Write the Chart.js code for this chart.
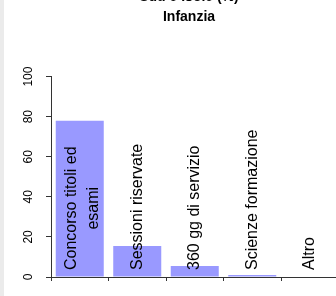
<!DOCTYPE html>
<html><head><meta charset="utf-8">
<script src="https://cdn.jsdelivr.net/npm/chart.js@4"></script>
<style>
html,body{margin:0;padding:0;width:336px;height:296px;overflow:hidden;background:#ebebeb;}
#wrap{position:absolute;left:4px;top:-14px;width:370px;height:320px;background:#fff;}
canvas{display:block;}
</style></head><body>
<div id="wrap"><canvas id="c" width="370" height="320" style="width:370px;height:320px"></canvas></div>
<script>
const titleLines = ["Sud e Isole (%)", "Infanzia"];
const categories = [["Concorso titoli ed", "esami"], ["Sessioni riservate"], ["360 gg di servizio"], ["Scienze formazione"], ["Altro"]];
const values = [78, 15.5, 5.5, 1, 0];
const yTicks = [0, 20, 40, 60, 80, 100];

const FONT = '"Liberation Sans", Arial, sans-serif';

const catLabels = {
  id: 'catLabels',
  afterDatasetsDraw(chart) {
    const ctx = chart.ctx;
    const x = chart.scales.x, y = chart.scales.y;
    ctx.save();
    ctx.font = '16px ' + FONT;
    ctx.fillStyle = '#000';
    ctx.textAlign = 'left';
    ctx.textBaseline = 'middle';
    const base = y.getPixelForValue(0) - 7;
    const lh = 22;
    categories.forEach((lines, i) => {
      const cx = x.getPixelForValue(i) + (lines.length > 1 ? 3 : 0);
      const maxW = Math.max(...lines.map(t => ctx.measureText(t).width));
      lines.forEach((t, j) => {
        const w = ctx.measureText(t).width;
        const off = (j - (lines.length - 1) / 2) * lh;
        ctx.save();
        ctx.translate(cx + off, base);
        ctx.rotate(-Math.PI / 2);
        ctx.fillText(t, (maxW - w) / 2, 0);
        ctx.restore();
      });
    });
    ctx.restore();
  }
};

new Chart(document.getElementById('c'), {
  type: 'bar',
  data: {
    labels: categories.map(c => c.join(' ')),
    datasets: [{
      data: values,
      backgroundColor: '#9999FF',
      borderWidth: 0,
      barPercentage: 0.835,
      categoryPercentage: 1,
      yAxisID: 'y'
    }]
  },
  options: {
    responsive: false,
    animation: false,
    devicePixelRatio: 1,
    layout: { padding: { left: 0, right: 0, top: 0, bottom: 25 } },
    plugins: {
      legend: { display: false },
      tooltip: { enabled: false },
      title: {
        display: true,
        text: titleLines,
        color: '#000',
        font: { family: FONT, size: 14, weight: 'bold', lineHeight: 1.4 },
        padding: { top: 1.8, bottom: 49.6 }
      }
    },
    scales: {
      x: {
        grid: { display: true, drawOnChartArea: false, drawTicks: true, tickLength: 4, color: '#333', offset: true },
        border: { display: true, color: '#333', width: 1 },
        ticks: { display: false }
      },
      y: {
        position: 'left',
        min: 0, max: 100,
        afterBuildTicks(scale) { scale.ticks = yTicks.map(v => ({ value: v })); },
        afterFit(scale) { scale.width = 47; },
        grid: { display: true, drawOnChartArea: false, drawTicks: true, tickLength: 5, color: '#333' },
        border: { display: true, color: '#333', width: 1 },
        ticks: {
          minRotation: 90, maxRotation: 90,
          crossAlign: 'center',
          padding: 7,
          color: '#000',
          font: { family: FONT, size: 12 }
        }
      },
      yRight: {
        type: 'linear',
        position: 'right',
        display: true,
        min: 0, max: 100,
        afterFit(scale) { scale.width = 35.5; },
        grid: { display: false },
        border: { display: false },
        ticks: { display: false }
      }
    }
  },
  plugins: [catLabels]
});
</script>
</body></html>
